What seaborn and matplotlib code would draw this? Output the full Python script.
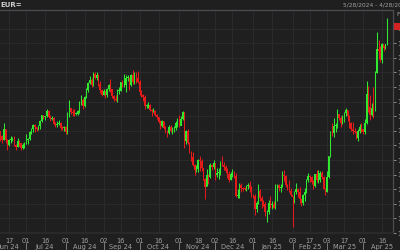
import numpy as np
import pandas as pd
import matplotlib
matplotlib.use("Agg")
import matplotlib.pyplot as plt
from matplotlib.patches import Rectangle
import matplotlib.transforms as mtransforms
import seaborn as sns

# ---------------- data (EUR= daily candles) ----------------
start_date = "2024-06-06"
end_date = "2025-04-21"
first_open = 1.0868

closes = [
    # Jun 2024
    1.0892, 1.0801, 1.0765, 1.0740, 1.0813, 1.0738, 1.0703, 1.0736, 1.0741, 1.0749,
    1.0702, 1.0692, 1.0733, 1.0715, 1.0683, 1.0702, 1.0713,
    # Jul
    1.0740, 1.0741, 1.0791, 1.0812, 1.0840, 1.0826, 1.0815, 1.0831, 1.0866, 1.0907,
    1.0894, 1.0902, 1.0937, 1.0898, 1.0883, 1.0891, 1.0845, 1.0841, 1.0848, 1.0856,
    1.0818, 1.0817, 1.0825,
    # Aug
    1.0789, 1.0911, 1.0955, 1.0930, 1.0922, 1.0918, 1.0918, 1.0933, 1.0993, 1.1012,
    1.0967, 1.1029, 1.1077, 1.1129, 1.1151, 1.1114, 1.1192, 1.1162, 1.1184, 1.1119,
    1.1077, 1.1047,
    # Sep
    1.1073, 1.1044, 1.1088, 1.1113, 1.1085, 1.1039, 1.1017, 1.1012, 1.1075, 1.1075,
    1.1133, 1.1116, 1.1117, 1.1162, 1.1163, 1.1112, 1.1180, 1.1134, 1.1177, 1.1165,
    1.1135,
    # Oct
    1.1067, 1.1047, 1.1031, 1.0973, 1.0975, 1.0979, 1.0941, 1.0937, 1.0937, 1.0907,
    1.0892, 1.0862, 1.0832, 1.0866, 1.0816, 1.0797, 1.0782, 1.0827, 1.0797, 1.0816,
    1.0817, 1.0856, 1.0883,
    # Nov
    1.0833, 1.0882, 1.0930, 1.0730, 1.0802, 1.0718, 1.0655, 1.0623, 1.0565, 1.0530,
    1.0541, 1.0598, 1.0596, 1.0543, 1.0472, 1.0418, 1.0496, 1.0487, 1.0566, 1.0553,
    1.0578,
    # Dec
    1.0496, 1.0511, 1.0512, 1.0586, 1.0566, 1.0555, 1.0527, 1.0502, 1.0466, 1.0502,
    1.0514, 1.0490, 1.0352, 1.0362, 1.0429, 1.0406, 1.0404, 1.0402, 1.0422, 1.0427,
    1.0405, 1.0354,
    # Jan 2025
    1.0352, 1.0266, 1.0308, 1.0388, 1.0343, 1.0319, 1.0300, 1.0243, 1.0245, 1.0308,
    1.0292, 1.0300, 1.0273, 1.0415, 1.0430, 1.0409, 1.0415, 1.0495, 1.0492, 1.0429,
    1.0424, 1.0391, 1.0361,
    # Feb
    1.0348, 1.0379, 1.0404, 1.0382, 1.0330, 1.0308, 1.0362, 1.0383, 1.0464, 1.0492,
    1.0485, 1.0446, 1.0420, 1.0501, 1.0460, 1.0466, 1.0513, 1.0484, 1.0400, 1.0378,
    # Mar
    1.0487, 1.0626, 1.0794, 1.0784, 1.0833, 1.0834, 1.0918, 1.0888, 1.0851, 1.0880,
    1.0922, 1.0943, 1.0900, 1.0854, 1.0815, 1.0802, 1.0792, 1.0752, 1.0800, 1.0828,
    1.0815,
    # Apr
    1.0791, 1.0852, 1.1050, 1.0962, 1.0909, 1.0957, 1.0948, 1.1196, 1.1360, 1.1350,
    1.1284, 1.1397, 1.1368, 1.1394, 1.1515,
]

highs = [
    # Jun 2024
    1.0902, 1.0900, 1.0788, 1.0772, 1.0852, 1.0814, 1.0744, 1.0745, 1.0762, 1.0761,
    1.0762, 1.0710, 1.0748, 1.0740, 1.0715, 1.0718, 1.0720,
    # Jul
    1.0776, 1.0754, 1.0801, 1.0817, 1.0845, 1.0845, 1.0828, 1.0838, 1.0872, 1.0910,
    1.0911, 1.0904, 1.0948, 1.0944, 1.0907, 1.0901, 1.0895, 1.0860, 1.0869, 1.0871,
    1.0860, 1.0834, 1.0834,
    # Aug
    1.0830, 1.0926, 1.1009, 1.0957, 1.0947, 1.0949, 1.0929, 1.0942, 1.1002, 1.1047,
    1.1028, 1.1040, 1.1091, 1.1135, 1.1174, 1.1160, 1.1201, 1.1202, 1.1201, 1.1190,
    1.1138, 1.1087,
    # Sep
    1.1084, 1.1076, 1.1091, 1.1122, 1.1155, 1.1088, 1.1047, 1.1046, 1.1086, 1.1100,
    1.1137, 1.1148, 1.1189, 1.1180, 1.1180, 1.1167, 1.1187, 1.1214, 1.1203, 1.1200,
    1.1209,
    # Oct
    1.1146, 1.1083, 1.1055, 1.1042, 1.0983, 1.0998, 1.0986, 1.0949, 1.0955, 1.0941,
    1.0915, 1.0895, 1.0872, 1.0871, 1.0867, 1.0830, 1.0804, 1.0838, 1.0840, 1.0826,
    1.0832, 1.0869, 1.0889,
    # Nov
    1.0905, 1.0903, 1.0937, 1.0913, 1.0805, 1.0810, 1.0722, 1.0663, 1.0653, 1.0576,
    1.0569, 1.0608, 1.0630, 1.0610, 1.0548, 1.0480, 1.0535, 1.0507, 1.0582, 1.0570,
    1.0597,
    # Dec
    1.0574, 1.0542, 1.0544, 1.0590, 1.0630, 1.0587, 1.0567, 1.0542, 1.0525, 1.0520,
    1.0535, 1.0524, 1.0508, 1.0398, 1.0445, 1.0440, 1.0416, 1.0412, 1.0431, 1.0445,
    1.0457, 1.0419,
    # Jan 2025
    1.0365, 1.0369, 1.0317, 1.0437, 1.0404, 1.0351, 1.0323, 1.0315, 1.0256, 1.0325,
    1.0353, 1.0318, 1.0320, 1.0433, 1.0436, 1.0438, 1.0434, 1.0522, 1.0533, 1.0497,
    1.0436, 1.0464, 1.0411,
    # Feb
    1.0352, 1.0385, 1.0442, 1.0410, 1.0413, 1.0330, 1.0370, 1.0406, 1.0467, 1.0513,
    1.0500, 1.0488, 1.0466, 1.0506, 1.0529, 1.0529, 1.0527, 1.0524, 1.0490, 1.0408,
    # Mar
    1.0522, 1.0630, 1.0796, 1.0855, 1.0888, 1.0854, 1.0947, 1.0917, 1.0901, 1.0907,
    1.0929, 1.0954, 1.0946, 1.0906, 1.0862, 1.0859, 1.0822, 1.0800, 1.0815, 1.0845,
    1.0852,
    # Apr
    1.0815, 1.0881, 1.1144, 1.1107, 1.1047, 1.0990, 1.1099, 1.1213, 1.1474, 1.1423,
    1.1378, 1.1401, 1.1390, 1.1395, 1.1573,
]

lows = [
    # Jun 2024
    1.0860, 1.0795, 1.0733, 1.0716, 1.0738, 1.0717, 1.0668, 1.0699, 1.0714, 1.0733,
    1.0697, 1.0671, 1.0691, 1.0699, 1.0666, 1.0675, 1.0682,
    # Jul
    1.0710, 1.0710, 1.0734, 1.0780, 1.0790, 1.0791, 1.0800, 1.0805, 1.0812, 1.0860,
    1.0878, 1.0872, 1.0893, 1.0888, 1.0868, 1.0872, 1.0839, 1.0825, 1.0826, 1.0839,
    1.0807, 1.0803, 1.0797,
    # Aug
    1.0777, 1.0780, 1.0894, 1.0917, 1.0903, 1.0904, 1.0909, 1.0907, 1.0925, 1.0974,
    1.0948, 1.0960, 1.1024, 1.1064, 1.1118, 1.1103, 1.1105, 1.1156, 1.1150, 1.1106,
    1.1057, 1.1037,
    # Sep
    1.1042, 1.1026, 1.1035, 1.1070, 1.1065, 1.1026, 1.1002, 1.1001, 1.0999, 1.1050,
    1.1071, 1.1101, 1.1100, 1.1068, 1.1141, 1.1083, 1.1108, 1.1121, 1.1122, 1.1130,
    1.1126,
    # Oct
    1.1046, 1.1033, 1.1007, 1.0951, 1.0955, 1.0953, 1.0934, 1.0900, 1.0929, 1.0903,
    1.0880, 1.0853, 1.0811, 1.0828, 1.0812, 1.0785, 1.0761, 1.0775, 1.0791, 1.0779,
    1.0790, 1.0806, 1.0826,
    # Nov
    1.0826, 1.0863, 1.0872, 1.0682, 1.0713, 1.0708, 1.0645, 1.0595, 1.0558, 1.0497,
    1.0517, 1.0521, 1.0523, 1.0524, 1.0462, 1.0335, 1.0424, 1.0439, 1.0475, 1.0533,
    1.0537,
    # Dec
    1.0460, 1.0482, 1.0470, 1.0500, 1.0556, 1.0534, 1.0509, 1.0480, 1.0450, 1.0465,
    1.0485, 1.0475, 1.0345, 1.0343, 1.0343, 1.0384, 1.0389, 1.0394, 1.0387, 1.0398,
    1.0384, 1.0348,
    # Jan 2025
    1.0340, 1.0226, 1.0242, 1.0302, 1.0321, 1.0273, 1.0287, 1.0214, 1.0178, 1.0231,
    1.0268, 1.0266, 1.0268, 1.0265, 1.0320, 1.0389, 1.0379, 1.0412, 1.0456, 1.0417,
    1.0396, 1.0379, 1.0352,
    # Feb
    1.0141, 1.0306, 1.0364, 1.0350, 1.0304, 1.0286, 1.0292, 1.0318, 1.0372, 1.0451,
    1.0446, 1.0434, 1.0403, 1.0413, 1.0450, 1.0444, 1.0446, 1.0473, 1.0398, 1.0360,
    # Mar
    1.0383, 1.0478, 1.0618, 1.0762, 1.0760, 1.0795, 1.0820, 1.0872, 1.0823, 1.0845,
    1.0860, 1.0900, 1.0869, 1.0822, 1.0796, 1.0780, 1.0785, 1.0745, 1.0732, 1.0787,
    1.0789,
    # Apr
    1.0777, 1.0778, 1.0850, 1.0931, 1.0877, 1.0903, 1.0890, 1.0935, 1.1195, 1.1290,
    1.1270, 1.1265, 1.1345, 1.1360, 1.1390,
]

tick_dates = ["2024-06-17", "2024-07-01", "2024-07-16", "2024-08-01", "2024-08-16",
              "2024-09-02", "2024-09-16", "2024-10-01", "2024-10-16", "2024-11-01",
              "2024-11-18", "2024-12-02", "2024-12-16", "2025-01-01", "2025-01-16",
              "2025-02-03", "2025-02-17", "2025-03-03", "2025-03-17", "2025-04-01",
              "2025-04-16"]
tick_labels = ["17", "01", "16", "01", "16", "02", "16", "01", "16", "01", "18",
               "02", "16", "01", "16", "03", "17", "03", "17", "01", "16"]
month_dates = ["2024-06-17", "2024-07-16", "2024-08-16", "2024-09-16", "2024-10-16",
               "2024-11-18", "2024-12-16", "2025-01-16", "2025-02-17", "2025-03-17",
               "2025-04-16"]
month_labels = ["Jun 24", "Jul 24", "Aug 24", "Sep 24", "Oct 24", "Nov 24", "Dec 24",
                "Jan 25", "Feb 25", "Mar 25", "Apr 25"]
month_starts = ["2024-07-01", "2024-08-01", "2024-09-02", "2024-10-01", "2024-11-01",
                "2024-12-02", "2025-01-01", "2025-02-03", "2025-03-03", "2025-04-01"]
price_ticks = [1.01, 1.02, 1.03, 1.04, 1.05, 1.06, 1.07, 1.08, 1.09, 1.10,
               1.11, 1.12, 1.13, 1.14, 1.15]
title_left = "EUR="
title_right = "5/28/2024 - 4/28/2025"

# ---------------- build frame ----------------
dates = pd.bdate_range(start_date, end_date)
df = pd.DataFrame({"date": dates, "close": closes, "high": highs, "low": lows})
df["open"] = [first_open] + closes[:-1]
df["pos"] = np.arange(len(df))
df["up"] = df["close"] >= df["open"]

def pos_of(d):
    return dates.get_loc(pd.Timestamp(d))

# ---------------- style ----------------
BG = "#1f1f20"
GRID = "#2b2b2d"
TXT = "#a0a0a0"
GREEN = "#2fe82f"
RED = "#e41b1b"

sns.set_theme(style="dark", rc={
    "axes.facecolor": BG, "figure.facecolor": BG, "grid.color": GRID,
    "axes.edgecolor": "#4a4a4c", "text.color": TXT,
    "xtick.color": TXT, "ytick.color": TXT,
})
plt.rcParams["font.family"] = ["DejaVu Sans"]

W, H = 400, 250
fig = plt.figure(figsize=(W / 100, H / 100), dpi=100)
ax_left, ax_right, ax_top, ax_bot = 0, 393, 10, 233
ax = fig.add_axes([ax_left / W, 1 - ax_bot / H, (ax_right - ax_left) / W, (ax_bot - ax_top) / H])

# candles: wicks then bodies
for up, col in [(True, GREEN), (False, RED)]:
    sub = df[df["up"] == up]
    ax.vlines(sub["pos"], sub["low"], sub["high"], color=col, lw=0.75, zorder=3)
    body_lo = np.minimum(sub["open"], sub["close"])
    body_h = np.maximum(np.abs(sub["close"] - sub["open"]), 0.0004)
    ax.bar(sub["pos"], body_h, bottom=body_lo, width=0.75, color=col,
           edgecolor="none", zorder=4)

# axes limits (~1.72 px per trading day)
x0 = pos_of("2024-06-17") - 9 / 1.719
x1 = x0 + 393 / 1.719
ax.set_xlim(x0, x1)
px_per_unit = 1464.0
y_top = 1.02 + (219 - ax_top) / px_per_unit
y_bot = 1.02 + (219 - ax_bot) / px_per_unit
ax.set_ylim(y_bot, y_top)

# grid and ticks
ax.set_xticks([pos_of(d) for d in tick_dates])
ax.set_xticklabels(tick_labels, fontsize=4.8, color=TXT)
ax.set_yticks(price_ticks)
ax.set_yticklabels([f"{v:.2f}" for v in price_ticks], fontsize=4.8, color=TXT)
ax.yaxis.tick_right()
ax.tick_params(axis="x", length=2, pad=1.5, colors=TXT, width=0.6)
ax.tick_params(axis="y", length=2, pad=1.0, colors=TXT, width=0.6)
ax.grid(True, color=GRID, lw=0.7)
ax.set_axisbelow(True)
ax.spines["left"].set_visible(False)
ax.spines["top"].set_color("#4d4d50")
ax.spines["top"].set_linewidth(0.9)
ax.spines["right"].set_color("#4d4d50")
ax.spines["right"].set_linewidth(0.9)
ax.spines["bottom"].set_color("#2b2b2d")

# month labels and separators
trans = mtransforms.blended_transform_factory(ax.transData, ax.transAxes)
for d, lab in zip(month_dates, month_labels):
    ax.text(pos_of(d), -14 / (ax_bot - ax_top), lab, transform=trans, ha="center",
            va="center", fontsize=4.8, color=TXT, clip_on=False)
for d in month_starts:
    ax.plot([pos_of(d), pos_of(d)], [-10 / (ax_bot - ax_top), -18 / (ax_bot - ax_top)],
            transform=trans, color="#8a8a8a", lw=0.6, clip_on=False)

# header texts
fig.text(0.5 / W, 1 - 5 / H, title_left, fontsize=5, color="#cfcfcf",
         ha="left", va="center", fontweight="bold")
fig.text(343 / W, 1 - 5 / H, title_right, fontsize=4.2, color=TXT, ha="left", va="center")
fig.text(396 / W, 1 - 15 / H, "F", fontsize=4.5, color=TXT, ha="left", va="center")

# last price tag
last = closes[-1]
ytag = ax_top + (y_top - last) * px_per_unit
fig.patches.append(Rectangle((394 / W, 1 - (ytag + 3.5) / H), 6 / W, 7 / H,
                             transform=fig.transFigure, facecolor="#d42222",
                             edgecolor="none", zorder=10))

fig.savefig("out.png", dpi=100, facecolor=BG)
